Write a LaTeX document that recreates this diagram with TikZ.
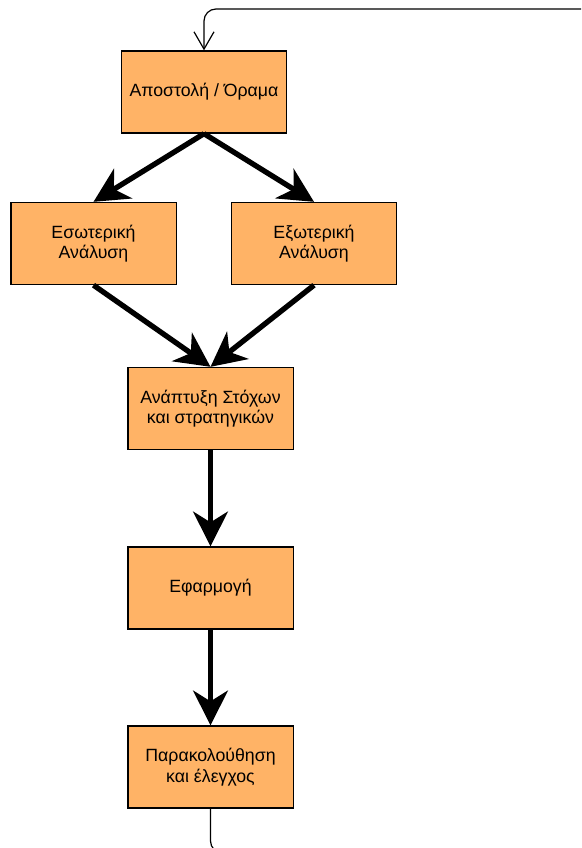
\documentclass[tikz,border=0pt]{standalone}
\usepackage{fontspec}
\setmainfont{Liberation Sans}
\usetikzlibrary{arrows.meta}

\definecolor{boxfill}{HTML}{FFB366}

\begin{document}
\begin{tikzpicture}[x=0.75pt, y=-0.75pt,
    box/.style={rectangle, draw, line width=1pt, fill=boxfill, minimum width=124pt,
        minimum height=61.5pt, align=center, font=\fontsize{13.3}{15.5}\selectfont},
    flow/.style={line width=4pt, -{Stealth[length=26pt, width=26pt, inset=8pt]}},
    feedback/.style={line width=0.9pt, rounded corners=9pt, -{Straight Barb[length=13pt, width=15pt]}}]
    \useasboundingbox (0,0) rectangle (581,848);
    \clip (0,0) rectangle (581,848);

    % Mission
    \node[box] (mission) at (204,92) {Αποστολή / Όραμα};

    % Analysis
    \node[box] (internal) at (93.5,243.5) {Εσωτερική\\Ανάλυση};
    \node[box] (external) at (314,243.5) {Εξωτερική\\Ανάλυση};
    \draw[flow] (mission.south) -- (internal.north);
    \draw[flow] (mission.south) -- (external.north);

    % Goals
    \node[box] (goals) at (210.5,408.5) {Ανάπτυξη Στόχων\\και στρατηγικών};
    \draw[flow] (internal.south) -- (goals.north);
    \draw[flow] (external.south) -- (goals.north);

    % Implementation
    \node[box] (implement) at (210.5,588) {Εφαρμογή};
    \draw[flow] (goals.south) -- (implement.north);

    % Monitoring
    \node[box] (monitor) at (210.5,767) {Παρακολούθηση\\και έλεγχος};
    \draw[flow] (implement.south) -- (monitor.north);

    % Feedback loop
    \coordinate (loopbr) at (600,853);
    \coordinate (looptr) at (600,9);
    \draw[feedback] (monitor.south) |- (loopbr) -- (looptr) -| (mission.north);
\end{tikzpicture}
\end{document}
